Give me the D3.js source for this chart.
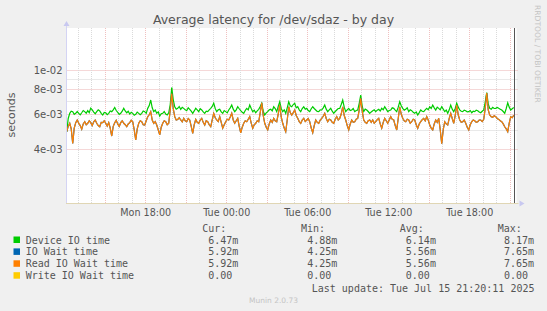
<!DOCTYPE html>
<html><head><meta charset="utf-8">
<script src="https://cdn.jsdelivr.net/npm/d3@7"></script>
<style>html,body{margin:0;padding:0;background:#f0f0f0;}svg{display:block;}</style>
</head><body><svg id="c" width="547" height="311"></svg>
<script>
// ---- data (milliseconds, one value per 400 s) ----
const deviceIO = [4.88,5.70,6.05,6.20,6.17,5.98,6.05,6.18,6.05,5.95,6.09,6.25,6.17,6.05,6.24,6.10,6.43,6.30,6.14,6.02,
6.17,6.30,6.22,6.05,5.93,6.12,6.09,5.96,6.05,6.22,6.17,6.30,6.48,6.25,6.12,5.98,6.05,6.20,6.41,6.22,
6.09,6.20,6.00,6.12,6.05,5.92,5.98,6.14,6.05,5.95,6.05,6.22,6.17,6.05,6.41,6.62,7.06,6.45,6.17,6.28,
6.05,6.15,5.86,6.02,6.05,6.18,6.00,5.94,6.09,6.70,8.17,7.10,6.53,6.35,6.41,6.55,6.34,6.48,6.41,6.30,
6.24,6.45,6.34,6.20,6.05,6.22,6.41,6.30,6.17,6.38,6.29,6.15,6.05,6.20,6.17,6.30,6.41,6.55,6.80,6.40,
6.17,6.30,6.34,6.15,6.05,6.25,6.17,6.08,6.29,6.45,6.66,6.35,6.17,6.30,6.53,6.38,6.24,6.12,6.05,6.25,
6.41,6.30,6.66,6.40,6.17,6.28,6.09,6.22,6.34,6.55,6.80,6.20,5.93,6.08,6.17,6.30,6.34,6.22,6.53,6.40,
6.17,6.55,6.92,6.40,6.17,6.30,6.05,6.45,6.92,6.60,6.53,6.70,6.80,6.45,6.53,6.30,6.17,6.40,6.53,6.35,
6.41,6.25,6.17,6.38,6.53,6.40,6.29,6.18,6.17,6.30,6.29,6.45,6.66,6.35,6.17,6.30,6.41,6.20,6.05,6.18,
6.29,6.40,6.41,6.70,7.06,6.50,6.17,6.30,6.41,6.25,6.29,6.40,6.17,6.25,6.29,6.80,7.48,6.55,6.17,6.35,
6.29,6.18,6.05,6.15,6.24,6.30,6.17,6.28,6.34,6.22,6.41,6.30,6.53,6.35,6.17,6.25,6.29,6.45,6.41,6.28,
6.17,6.50,6.92,6.60,6.41,6.28,6.34,6.45,6.17,6.30,6.24,6.12,6.05,6.15,5.93,6.10,6.29,6.20,6.17,6.30,
6.41,6.30,6.53,6.40,6.66,6.45,6.29,6.50,6.41,6.30,6.53,6.35,6.17,6.28,6.05,6.30,6.66,6.35,6.17,6.40,
6.80,6.50,6.29,6.20,6.17,6.28,6.24,6.15,6.17,6.25,6.09,6.20,6.17,6.28,6.24,6.15,6.09,6.20,6.29,6.90,
7.69,6.75,6.41,6.35,6.48,6.40,6.41,6.48,6.41,6.35,6.29,6.18,6.05,6.40,6.84,6.50,6.29,6.38,6.47];
const readIOWait = [4.89,5.20,5.39,5.05,4.27,5.10,5.43,5.60,5.39,5.25,5.03,5.35,5.49,5.30,5.39,5.55,5.43,5.25,5.49,5.60,
5.39,5.25,5.18,5.45,5.43,5.55,5.39,5.22,5.43,5.10,4.65,5.20,5.43,5.58,5.35,5.20,5.43,5.55,5.39,5.30,
5.18,5.35,5.43,5.58,5.49,5.00,4.44,5.05,5.39,5.55,5.49,5.30,5.28,5.55,5.82,5.95,6.17,5.60,5.39,5.50,
5.28,5.00,4.71,5.15,5.39,5.55,5.49,5.30,5.39,6.30,7.60,6.40,5.82,5.60,5.64,5.75,5.60,5.48,5.71,5.55,
5.49,5.70,5.60,5.20,4.80,5.30,5.64,5.45,5.39,5.60,5.71,5.45,5.28,5.55,5.49,5.30,5.18,5.60,6.05,5.75,
5.60,5.50,5.82,5.45,5.09,5.30,5.49,5.65,5.60,5.80,6.05,5.60,5.39,5.55,5.71,5.20,4.83,5.15,5.39,5.55,
5.49,5.65,5.82,5.40,5.09,5.30,5.39,5.55,5.49,6.10,6.84,5.90,5.39,5.15,4.99,5.35,5.60,5.45,5.71,5.55,
5.49,6.00,6.66,5.80,5.39,5.10,4.89,5.60,6.53,6.10,5.93,6.10,6.29,5.90,5.71,5.50,5.39,5.60,5.71,5.50,
5.60,5.70,5.49,5.10,4.83,5.25,5.60,5.45,5.39,5.60,5.71,5.85,6.05,5.70,5.49,5.65,5.60,5.45,5.39,5.65,
5.82,5.60,5.71,6.00,6.53,5.90,5.60,5.25,4.99,5.35,5.60,5.45,5.49,5.65,5.71,6.30,7.20,6.20,5.60,5.45,
5.39,5.55,5.60,5.45,5.60,5.40,5.49,5.62,5.71,5.35,5.09,5.45,5.71,5.55,5.39,5.60,5.82,5.65,5.60,5.25,
4.99,5.70,6.53,6.00,5.71,5.55,5.49,5.65,5.60,5.40,5.49,5.65,5.60,5.30,5.09,5.35,5.49,5.62,5.71,5.55,
5.82,5.60,5.28,5.10,4.99,5.35,5.60,5.45,5.71,5.00,4.25,5.00,5.49,5.35,5.28,5.70,6.05,5.70,5.39,5.90,
6.66,5.95,5.60,5.45,5.49,5.60,5.39,5.15,4.99,5.30,5.49,5.60,5.55,5.45,5.49,5.60,5.60,5.50,5.64,6.40,
7.65,6.30,5.93,5.82,5.78,5.88,5.82,5.70,5.64,5.55,5.49,5.35,5.18,5.05,4.89,5.40,5.82,5.75,5.92];
const ioWait = readIOWait.slice(); // identical series in the source
const seriesNames = ["Device IO time","IO Wait time","Read IO Wait time","Write IO Wait time"];
const seriesColors = ["#00CC00","#0066B3","#FF8000","#FFCC00"];
const curVals = ["6.47m","5.92m","5.92m","0.00"];
const minVals = ["4.88m","4.25m","4.25m","0.00"];
const avgVals = ["6.14m","5.56m","5.56m","0.00"];
const maxVals = ["8.17m","7.65m","7.65m","0.00"];
const colHeaders = ["Cur:","Min:","Avg:","Max:"];
const yMajorTicks = [0.004,0.006,0.008,0.01];
const yMajorLabels = ["4e-03","6e-03","8e-03","1e-02"];
const yMinorTicks = [0.003,0.005,0.007,0.009];
const xLabelTimes = [Date.UTC(2025,6,14,18),Date.UTC(2025,6,15,0),Date.UTC(2025,6,15,6),Date.UTC(2025,6,15,12),Date.UTC(2025,6,15,18)];
const tEnd = Date.UTC(2025,6,15,21,30,0);
const tStart = tEnd - 120000*1000;
const dataStart = Date.UTC(2025,6,14,12,11,0);
const dataStep = 400*1000;
const lastUpdate = Date.UTC(2025,6,15,21,20,11);
const yDomain = [0.002138,0.01628];

// ---- drawing ----
const svg = d3.select("#c");
const P = {x0:66.5,x1:516.5,y0:28,y1:203};
const x = d3.scaleUtc().domain([tStart,tEnd]).range([P.x0,P.x1]);
const y = d3.scaleLog().domain(yDomain).range([P.y1,P.y0]);
const font = "'DejaVu Sans', sans-serif", mono = "'DejaVu Sans Mono', monospace";
const txt = "#555";
const minorC = "#dadada", majorC = "#f0c0c0";

svg.append("rect").attr("width",547).attr("height",311).attr("fill","#f0f0f0");
svg.append("rect").attr("x",P.x0).attr("y",P.y0).attr("width",P.x1-P.x0).attr("height",P.y1-P.y0).attr("fill","#fff");

const g = svg.append("g");
yMinorTicks.forEach(v=>{const yy=Math.round(y(v))+0.5;
  g.append("line").attr("x1",P.x0).attr("x2",P.x1+2).attr("y1",yy).attr("y2",yy).attr("stroke","#d2d2d2").attr("stroke-dasharray","1,1");});
yMajorTicks.forEach(v=>{const yy=Math.round(y(v))+0.5;
  g.append("line").attr("x1",P.x0).attr("x2",P.x1+2).attr("y1",yy).attr("y2",yy).attr("stroke","#eab0b0").attr("stroke-dasharray","1,1");});
d3.utcHour.range(new Date(tStart), new Date(tEnd)).forEach(h=>{
  const xx=Math.round(x(h))+0.5; const major = h.getUTCHours()%3===0;
  g.append("line").attr("x1",xx).attr("x2",xx).attr("y1",P.y0).attr("y2",P.y1)
   .attr("stroke",major?majorC:minorC).attr("stroke-dasharray","1,1");
});

const toPts = arr => arr.map((v,i)=>({t:dataStart+i*dataStep,v:v/1000}));
const line = d3.line().x(d=>x(d.t)).y(d=>y(d.v));
[[deviceIO,seriesColors[0]],[ioWait,seriesColors[1]],[readIOWait,seriesColors[2]]].forEach(([arr,c])=>{
  svg.append("path").datum(toPts(arr)).attr("d",line).attr("fill","none").attr("stroke",c).attr("stroke-width",1.2);
});

svg.append("line").attr("x1",P.x0-0.5).attr("x2",P.x1+2).attr("y1",P.y1+0.5).attr("y2",P.y1+0.5).attr("stroke","#e0d6b4");
svg.append("line").attr("x1",P.x0).attr("x2",P.x0).attr("y1",P.y0-2).attr("y2",P.y1).attr("stroke","#d4d4f4");
svg.append("path").attr("d",`M${P.x0-3},${P.y0-2}L${P.x0+3},${P.y0-2}L${P.x0},${P.y0-7}Z`).attr("fill","#c8c8f0");
svg.append("path").attr("d",`M${P.x1+3},${P.y1+0.5-3}L${P.x1+3},${P.y1+0.5+3}L${P.x1+8},${P.y1+0.5}Z`).attr("fill","#c8c8f0");
const xl = Math.round(x(lastUpdate))+0.5;
svg.append("line").attr("x1",xl).attr("x2",xl).attr("y1",P.y0).attr("y2",P.y1).attr("stroke","#555");

const yAxis = d3.axisLeft(y).tickValues(yMajorTicks).tickFormat((d,i)=>yMajorLabels[i]).tickSize(0).tickPadding(4);
const ya = svg.append("g").attr("transform",`translate(${P.x0},0)`).call(yAxis);
ya.select(".domain").remove();
ya.selectAll("text").attr("font-family",font).attr("font-size","10px").attr("fill",txt);
const xAxis = d3.axisBottom(x).tickValues(xLabelTimes.map(t=>new Date(t))).tickFormat(d3.utcFormat("%a %H:%M")).tickSize(0).tickPadding(6);
const xa = svg.append("g").attr("transform",`translate(0,${P.y1})`).call(xAxis);
xa.select(".domain").remove();
xa.selectAll("text").attr("font-family",font).attr("font-size","9.6px").attr("fill",txt);

svg.append("text").attr("x",273.5).attr("y",24).attr("text-anchor","middle").attr("font-family",font).attr("font-size","12.5px").attr("fill",txt).text("Average latency for /dev/sdaz - by day");
svg.append("text").attr("transform","translate(15,115) rotate(-90)").attr("text-anchor","middle").attr("font-family",font).attr("font-size","11px").attr("fill",txt).text("seconds");
svg.append("text").attr("transform","translate(535,5) rotate(90)").attr("font-family",font).attr("font-size","7.6px").attr("fill","#c4c4c4").text("RRDTOOL / TOBI OETIKER");

const colX = [202.3,300.9,399.8,497.8];
const valX = [208.2,307.2,405.8,504.0];
colHeaders.forEach((h,i)=>svg.append("text").attr("x",colX[i]).attr("y",232).attr("font-family",mono).attr("font-size","10px").attr("fill",txt).text(h));
const rowY = [243.5,255.4,267.3,279.2];
const valCols = [curVals,minVals,avgVals,maxVals];
seriesNames.forEach((n,r)=>{
  svg.append("rect").attr("x",13.5).attr("y",rowY[r]-7).attr("width",6.5).attr("height",6.5).attr("fill",seriesColors[r]);
  svg.append("text").attr("x",25.7).attr("y",rowY[r]).attr("font-family",mono).attr("font-size","10px").attr("fill",txt).text(n);
  valCols.forEach((col,c)=>svg.append("text").attr("x",valX[c]).attr("y",rowY[r]).attr("font-family",mono).attr("font-size","10px").attr("fill",txt).text(col[r]));
});
svg.append("text").attr("x",534.5).attr("y",291.6).attr("text-anchor","end").attr("font-family",mono).attr("font-size","10px").attr("fill",txt).text("Last update: Tue Jul 15 21:20:11 2025");
svg.append("text").attr("x",273.5).attr("y",302.8).attr("text-anchor","middle").attr("font-family",font).attr("font-size","7.5px").attr("fill","#c4c4c4").text("Munin 2.0.73");
</script></body></html>
